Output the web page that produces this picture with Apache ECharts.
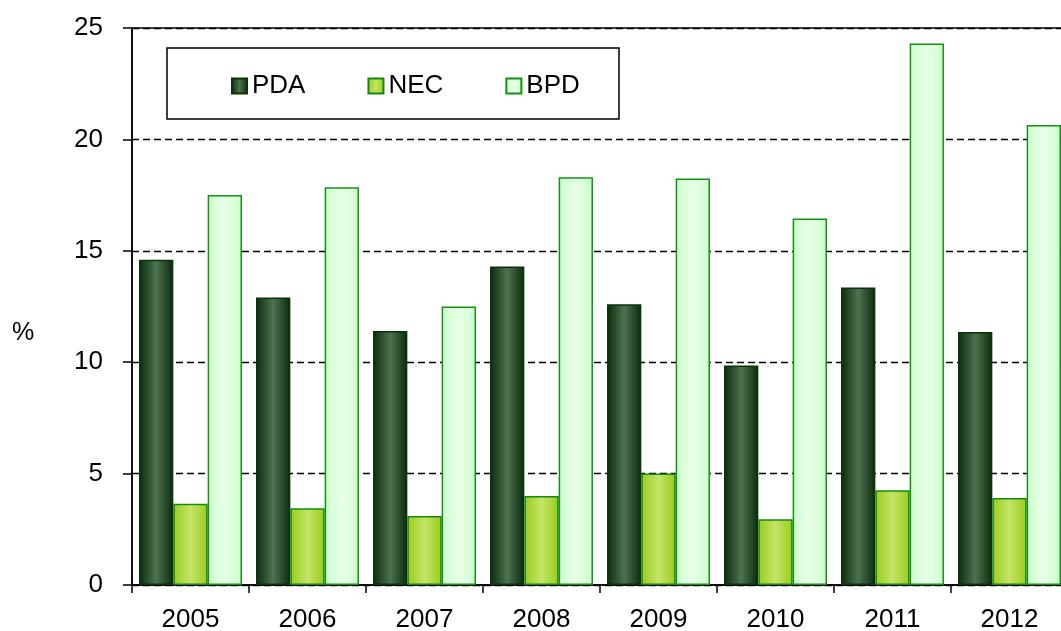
<!DOCTYPE html>
<html>
<head>
<meta charset="utf-8">
<script src="https://cdn.jsdelivr.net/npm/echarts@6/dist/echarts.min.js"></script>
<style>
  html, body { margin: 0; padding: 0; background: #fff; }
  #chart { width: 1061px; height: 631px; }
</style>
</head>
<body>
<div id="chart"></div>
<script>
// data
var years = ['2005', '2006', '2007', '2008', '2009', '2010', '2011', '2012'];
var pda = [14.6, 12.9, 11.4, 14.3, 12.6, 9.85, 13.35, 11.35];
var nec = [3.65, 3.45, 3.1, 4.0, 5.0, 2.95, 4.25, 3.9];
var bpd = [17.5, 17.85, 12.5, 18.3, 18.25, 16.45, 24.3, 20.65];
var yTicks = [0, 5, 10, 15, 20, 25];

// horizontal "cylinder" gradient: dark edges, light middle
function grad(edge, mid) {
    return new echarts.graphic.LinearGradient(0, 0, 1, 0, [
        { offset: 0, color: edge },
        { offset: 0.5, color: mid },
        { offset: 1, color: edge }
    ]);
}

var font = 'Liberation Sans, Arial, sans-serif';
var chart = echarts.init(document.getElementById('chart'));

chart.setOption({
    animation: false,
    textStyle: { fontFamily: font },
    grid: {
        left: 132, right: -7, top: 28, bottom: 46,
        outerBoundsMode: 'none',
        show: true, borderColor: '#000', borderWidth: 1.5, backgroundColor: 'transparent'
    },
    graphic: [{
        type: 'rect',
        shape: { x: 167, y: 48, width: 452, height: 71 },
        style: { fill: '#fff', stroke: '#000', lineWidth: 1.5 },
        z: 10
    }, {
        type: 'text',
        left: 12, top: 321,
        style: { text: '%', font: '25px ' + font, fill: '#000' },
        z: 10
    }],
    legend: {
        left: 231, top: 73, z: 20, padding: 0,
        icon: 'rect',
        itemWidth: 15, itemHeight: 15, itemGap: 62,
        textStyle: { fontSize: 26, color: '#000', fontFamily: font },
        data: ['PDA', 'NEC', 'BPD']
    },
    xAxis: {
        type: 'category',
        data: years,
        axisLine: { lineStyle: { color: '#000', width: 1.5 } },
        axisTick: { show: true, length: 8, lineStyle: { color: '#000', width: 1.5 } },
        axisLabel: { fontSize: 26, color: '#000', margin: 22 },
        splitLine: { show: false }
    },
    yAxis: {
        type: 'value',
        min: yTicks[0], max: yTicks[yTicks.length - 1], interval: 5,
        axisLine: { show: true, lineStyle: { color: '#000', width: 1.5 } },
        axisTick: { show: true, length: 9, lineStyle: { color: '#000', width: 1.5 } },
        axisLabel: { fontSize: 26, color: '#000', margin: 29 },
        splitLine: { show: true, lineStyle: { color: '#000', type: [7, 4], width: 1.3 } }
    },
    series: [{
        name: 'PDA', type: 'bar', data: pda,
        barGap: '0%', barCategoryGap: '12%',
        itemStyle: { color: grad('#0b2a0d', '#4d7350'), borderColor: '#0a330a', borderWidth: 1.5 }
    }, {
        name: 'NEC', type: 'bar', data: nec,
        itemStyle: { color: grad('#99cc1c', '#c4e468'), borderColor: '#138a10', borderWidth: 1.5 }
    }, {
        name: 'BPD', type: 'bar', data: bpd,
        itemStyle: { color: grad('#ccffcc', '#e8ffe8'), borderColor: '#169116', borderWidth: 1.5 }
    }]
});
</script>
</body>
</html>
